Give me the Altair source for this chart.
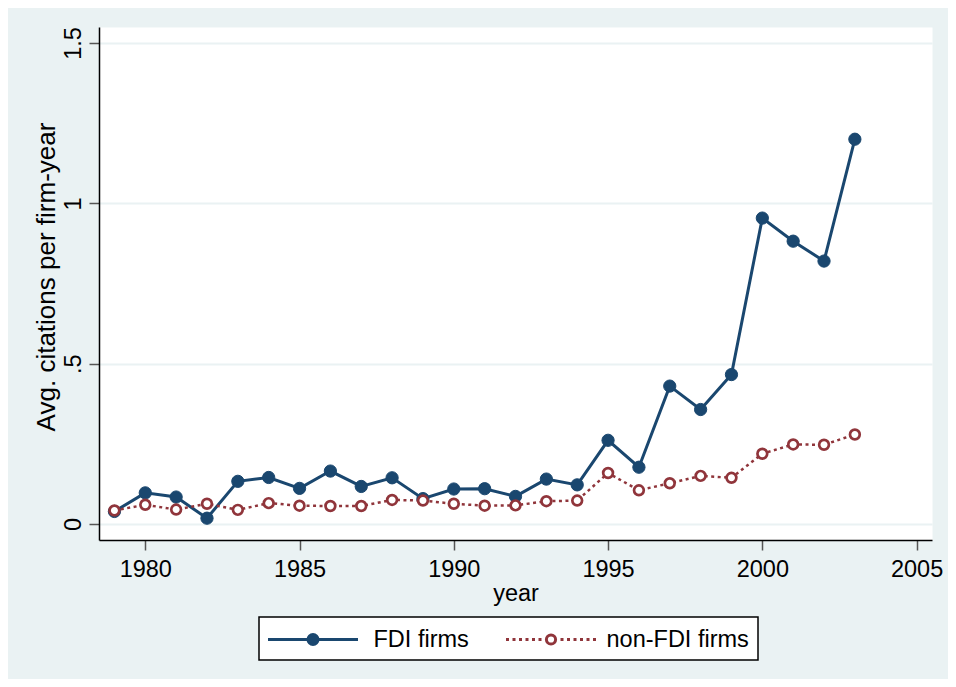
import altair as alt
import pandas as pd

# ---- data ----
years = [1979, 1980, 1981, 1982, 1983, 1984, 1985, 1986, 1987, 1988, 1989, 1990,
         1991, 1992, 1993, 1994, 1995, 1996, 1997, 1998, 1999, 2000, 2001, 2002, 2003]
fdi = [0.039, 0.097, 0.084, 0.018, 0.133, 0.145, 0.111, 0.165, 0.117, 0.144, 0.079, 0.109,
       0.110, 0.086, 0.140, 0.122, 0.261, 0.177, 0.430, 0.357, 0.466, 0.954, 0.882, 0.820, 1.200]
non_fdi = [0.042, 0.060, 0.045, 0.063, 0.044, 0.065, 0.057, 0.056, 0.056, 0.075, 0.073, 0.063,
           0.057, 0.058, 0.071, 0.073, 0.159, 0.105, 0.127, 0.150, 0.144, 0.219, 0.248, 0.247, 0.279]
series_names = ["FDI firms", "non-FDI firms"]
x_ticks = [1980, 1985, 1990, 1995, 2000, 2005]
y_ticks = [0, 0.5, 1, 1.5]

BLUE = "#1a476f"
RED = "#90353b"
BG = "#eaf2f3"
FONT = "Liberation Sans"

df = pd.DataFrame({
    "year": years + years,
    "value": fdi + non_fdi,
    "series": [series_names[0]] * len(years) + [series_names[1]] * len(years),
})

# ---- legend symbol paths (line + marker), units of sqrt(symbolSize)/2 px ----
SYM_SIZE = 576
U = (SYM_SIZE ** 0.5) / 2.0


def circle_path(r):
    return f"M{r:.4f},0A{r:.4f},{r:.4f} 0 1 1 {-r:.4f},0A{r:.4f},{r:.4f} 0 1 1 {r:.4f},0Z"


half = 45 / U
path_fdi = f"M{-half:.4f},0L{half:.4f},0" + circle_path(5 / U)

dot, gap = 3 / U, 3.5 / U
inner = 6.5 / U
segs = []
xpos = -half
while xpos + dot <= -inner:
    segs.append(f"M{xpos:.4f},0L{xpos + dot:.4f},0")
    segs.append(f"M{-xpos - dot:.4f},0L{-xpos:.4f},0")
    xpos += dot + gap
path_non = "".join(segs) + circle_path(4.6 / U)

test_fdi = f"datum.value == '{series_names[0]}'"

legend = alt.Legend(
    title=None,
    orient="none",
    legendX=160,
    legendY=590,
    direction="horizontal",
    fillColor="white",
    strokeColor="black",
    padding=9,
    symbolSize=SYM_SIZE,
    symbolType={"expr": f"{test_fdi} ? '{path_fdi}' : '{path_non}'"},
    symbolFillColor={"expr": f"{test_fdi} ? '{BLUE}' : '#ffffff'"},
    symbolStrokeWidth=3,
    symbolOffset=31.5,
    labelOffset={"expr": f"{test_fdi} ? 47 : 42"},
    columnPadding=31,
    labelFont=FONT,
    labelFontSize=23.5,
    labelColor="black",
    labelLimit=400,
    symbolOpacity=1,
)

x_enc = alt.X(
    "year:Q",
    scale=alt.Scale(domain=[1978.5, 2005.5], nice=False, zero=False),
    axis=alt.Axis(
        values=x_ticks, format="d", title="year", grid=False,
        tickSize=10, labelPadding=7, labelBaseline="top",
        titleBaseline="alphabetic", titleY=60,
    ),
)
y_enc = alt.Y(
    "value:Q",
    scale=alt.Scale(domain=[-0.05, 1.55], nice=False, zero=False),
    axis=alt.Axis(
        values=y_ticks, format="~g",
        labelExpr="datum.value == 0.5 ? '.5' : datum.label",
        labelAngle=-90, labelAlign="center", labelBaseline="alphabetic",
        tickSize=10, labelPadding=9,
        title="Avg. citations per firm-year", titleFontSize=26,
        titleAngle=-90, titleAlign="center", titleBaseline="alphabetic",
        titleX=-45, titleY=249.5,
        grid=True, gridColor=BG, gridWidth=2,
    ),
)

base = alt.Chart(df)

line_fdi = base.transform_filter(alt.datum.series == series_names[0]).mark_line(
    color=BLUE, strokeWidth=3
).encode(x=x_enc, y=y_enc)

line_non = base.transform_filter(alt.datum.series == series_names[1]).mark_line(
    color=RED, strokeWidth=2.5, strokeDash=[3, 3.5]
).encode(x=x_enc, y=y_enc)

is_fdi = alt.datum.series == series_names[0]
points = base.mark_point(filled=False, opacity=1).encode(
    x=x_enc,
    y=y_enc,
    color=alt.Color("series:N", scale=alt.Scale(domain=series_names, range=[BLUE, RED]), legend=legend),
    fill=alt.Fill("series:N", scale=alt.Scale(domain=series_names, range=[BLUE, "#ffffff"]), legend=None),
    size=alt.condition(is_fdi, alt.value(150), alt.value(95)),
    strokeWidth=alt.condition(is_fdi, alt.value(1), alt.value(2.7)),
)

chart = alt.layer(line_fdi, line_non, points).properties(
    width=833,
    height=513,
    padding={"left": 91, "top": 19, "right": 16, "bottom": 139},
    autosize=alt.AutoSizeParams(type="none"),
    background=BG,
).configure_view(
    fill="white", stroke="transparent"
).configure_legend(
    strokeWidth=1.5
).configure_axis(
    labelFont=FONT, labelFontSize=23.5, labelColor="black",
    titleFont=FONT, titleFontSize=23.5, titleColor="black", titleFontWeight="normal",
    domainColor="black", domainWidth=1.5, tickColor="#555555", tickWidth=1.5,
)

chart.save("out.html", embed_options={"renderer": "svg", "actions": False})
